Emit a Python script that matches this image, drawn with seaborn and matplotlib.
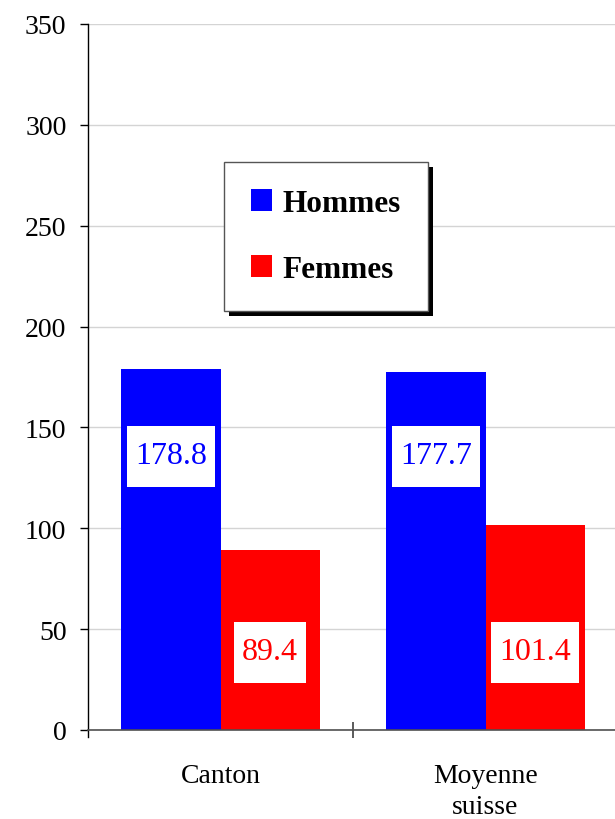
import matplotlib
matplotlib.use("Agg")
import matplotlib.pyplot as plt
import seaborn as sns
import pandas as pd
from matplotlib.patches import Rectangle

categories = ["Canton", "Moyenne\nsuisse"]
series_names = ["Hommes", "Femmes"]
hommes = [178.8, 177.7]
femmes = [89.4, 101.4]
label_y = {"Hommes": 136.1, "Femmes": 38.9}
colors = {"Hommes": "#0000FF", "Femmes": "#FF0000"}
yticks = [0, 50, 100, 150, 200, 250, 300, 350]

df = pd.DataFrame({
    "cat": categories * 2,
    "sexe": ["Hommes"] * len(categories) + ["Femmes"] * len(categories),
    "val": hommes + femmes,
})

sns.set_theme(style="white")
plt.rcParams["font.family"] = ["Liberation Serif", "DejaVu Serif"]
plt.rcParams["text.color"] = "black"
plt.rcParams["xtick.labelcolor"] = "black"
plt.rcParams["ytick.labelcolor"] = "black"

W, H, DPI = 615, 820, 100
fig = plt.figure(figsize=(W / DPI, H / DPI), dpi=DPI)
fig.patch.set_facecolor("white")
ax = fig.add_axes([88 / W, 1 - 731 / H, 530 / W, 706 / H])

sns.barplot(data=df, x="cat", y="val", hue="sexe", order=categories,
            hue_order=series_names, palette=colors, saturation=1,
            width=0.75, linewidth=0, ax=ax, legend=False)

ax.set_xlim(-0.5, 1.5)
ax.set_ylim(0, 350)
ax.set_yticks(yticks)
ax.set_yticklabels([str(v) for v in yticks], fontsize=20, color="black")
ax.grid(axis="y", color="#d4d4d4", linewidth=1)
ax.set_axisbelow(True)
ax.set_xlabel("")
ax.set_ylabel("")
for s in ["top", "right"]:
    ax.spines[s].set_visible(False)
ax.spines["left"].set_color("black")
ax.spines["left"].set_linewidth(1)
ax.spines["left"].set_bounds(-3.5, 350)
ax.spines["bottom"].set_color("#505050")
ax.spines["bottom"].set_linewidth(1.2)
ax.tick_params(axis="y", which="major", left=True, length=6, width=1,
               color="black", pad=9.5, direction="out")
ax.set_xticks(range(len(categories)))
ax.set_xticklabels(categories, fontsize=20, linespacing=1.3, color="black")
ax.tick_params(axis="x", which="major", length=0, pad=24)
ax.set_xticks([0.5, 1.5], minor=True)
ax.tick_params(axis="x", which="minor", bottom=True, length=12, width=1.2,
               direction="inout", color="#404040")

# legend
handles = [Rectangle((0, 0), 1, 1, facecolor=colors[n], edgecolor="none")
           for n in series_names]
leg = ax.legend(handles, series_names, loc="upper left",
                bbox_to_anchor=(224 / W, 1 - 163 / H),
                bbox_transform=fig.transFigure,
                prop={"family": "Liberation Serif", "weight": "bold", "size": 22.5},
                frameon=True, fancybox=False, shadow=False,
                handlelength=0.68, handleheight=0.72, handletextpad=0.35,
                labelspacing=1.2, borderpad=0.85, borderaxespad=0)
frame = leg.get_frame()
frame.set_edgecolor("#555555")
frame.set_linewidth(1)
frame.set_facecolor("white")
frame.set_alpha(1)
leg.set_zorder(7)

# value labels
texts = []
for i, cat in enumerate(categories):
    for j, name in enumerate(series_names):
        val = df[(df.cat == cat) & (df.sexe == name)].val.iloc[0]
        x = i + (j - 0.5) * 0.375
        t = ax.text(x, label_y[name], f"{val:.1f}", ha="center", va="center",
                    fontsize=23, color=colors[name], zorder=6)
        texts.append(t)

fig.canvas.draw()
for t in texts:
    e = t.get_window_extent()
    cx, cy = (e.x0 + e.x1) / 2, (e.y0 + e.y1) / 2
    bw, bh = e.width + 16, 61
    ax.add_patch(Rectangle((cx - bw / 2, cy - bh / 2 - 1), bw, bh,
                           transform=None, facecolor="white",
                           edgecolor="none", zorder=5.5))

bb = leg.get_window_extent()
off = 5
ax.add_patch(Rectangle((bb.x0 + off, bb.y0 - off), bb.width, bb.height,
                       transform=None, facecolor="black", edgecolor="none",
                       zorder=6.5))

fig.savefig("out.png", dpi=DPI)
